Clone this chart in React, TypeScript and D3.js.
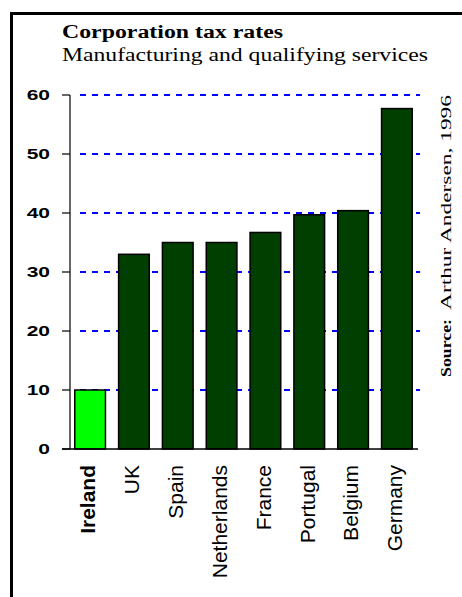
import { useRef, useEffect } from "react";
import { select, scaleBand, scaleLinear } from "d3";

const countries = ["Ireland", "UK", "Spain", "Netherlands", "France", "Portugal", "Belgium", "Germany"];
const taxRates = [10, 33, 35, 35, 36.7, 39.7, 40.4, 57.7];
const yTicks = [0, 10, 20, 30, 40, 50, 60];
const gridTicks = [10, 20, 30, 40, 50, 60];

export default function App() {
  const svgRef = useRef<SVGSVGElement>(null);

  useEffect(() => {
    const svg = select(svgRef.current);
    svg.selectAll("*").remove();

    const xScale = scaleBand().domain(countries).range([66, 421]).paddingInner(0.3).paddingOuter(0.2);
    const yScale = scaleLinear().domain([0, 60]).range([449, 95]);
    const sans = "'Liberation Sans', Arial, sans-serif";
    const serif = "'Liberation Serif', serif";

    // frame
    svg.append("rect")
      .attr("x", 11.5).attr("y", 13.5).attr("width", 480).attr("height", 600)
      .attr("fill", "none").attr("stroke", "#000").attr("stroke-width", 3);

    // titles
    svg.append("text")
      .attr("x", 62).attr("y", 38)
      .attr("font-family", serif).attr("font-weight", "bold").attr("font-size", 18)
      .attr("textLength", 221).attr("lengthAdjust", "spacingAndGlyphs")
      .text("Corporation tax rates");
    svg.append("text")
      .attr("x", 62).attr("y", 61)
      .attr("font-family", serif).attr("font-size", 18)
      .attr("textLength", 366).attr("lengthAdjust", "spacingAndGlyphs")
      .text("Manufacturing and qualifying services");

    // gridlines
    svg.append("g").selectAll("line")
      .data(gridTicks)
      .join("line")
      .attr("x1", 80).attr("x2", 420)
      .attr("y1", d => Math.round(yScale(d))).attr("y2", d => Math.round(yScale(d)))
      .attr("stroke", "#0000ff").attr("stroke-width", 2)
      .attr("stroke-dasharray", "6,6");

    // bars
    svg.append("g").selectAll("rect")
      .data(countries)
      .join("rect")
      .attr("x", d => xScale(d)!)
      .attr("y", (d, i) => yScale(taxRates[i]))
      .attr("width", xScale.bandwidth())
      .attr("height", (d, i) => yScale(0) - yScale(taxRates[i]))
      .attr("fill", d => d === "Ireland" ? "#00ff00" : "#003f00")
      .attr("stroke", "#000").attr("stroke-width", 1.5);

    // y axis
    svg.append("line")
      .attr("x1", 70).attr("x2", 70).attr("y1", 95).attr("y2", 449)
      .attr("stroke", "#000").attr("stroke-width", 1.2);
    svg.append("g").selectAll("line")
      .data(yTicks)
      .join("line")
      .attr("x1", 62).attr("x2", 70)
      .attr("y1", d => yScale(d)).attr("y2", d => yScale(d))
      .attr("stroke", "#000").attr("stroke-width", 1.2);
    svg.append("g").selectAll("text")
      .data(yTicks)
      .join("text")
      .attr("transform", d => `translate(50,${yScale(d)}) scale(1.4,1)`)
      .attr("text-anchor", "end").attr("dy", "0.36em")
      .attr("font-family", sans).attr("font-weight", "bold").attr("font-size", 15)
      .text(d => d);
    svg.append("line")
      .attr("x1", 62).attr("x2", 418).attr("y1", 449).attr("y2", 449)
      .attr("stroke", "#000").attr("stroke-width", 1.5);

    // category labels
    svg.append("g").selectAll("text")
      .data(countries)
      .join("text")
      .attr("transform", d => `translate(${xScale(d)! + xScale.bandwidth() / 2 - 2},465) rotate(-90)`)
      .attr("text-anchor", "end").attr("dy", "0.35em")
      .attr("font-family", sans)
      .attr("font-size", 21)
      .attr("font-weight", d => d === "Ireland" ? "bold" : "normal")
      .text(d => d);

    // source
    svg.append("text")
      .attr("transform", "translate(451,377) rotate(-90)")
      .attr("font-family", serif).attr("font-weight", "bold").attr("font-size", 15)
      .attr("textLength", 58).attr("lengthAdjust", "spacingAndGlyphs")
      .text("Source:");
    svg.append("text")
      .attr("transform", "translate(451,310) rotate(-90)")
      .attr("font-family", serif).attr("font-size", 15)
      .attr("textLength", 215).attr("lengthAdjust", "spacingAndGlyphs")
      .text("Arthur Andersen, 1996");
  }, []);

  return (
    <svg ref={svgRef} width={462} height={597}
      style={{ position: "absolute", left: 0, top: 0, background: "#fff" }} />
  );
}
